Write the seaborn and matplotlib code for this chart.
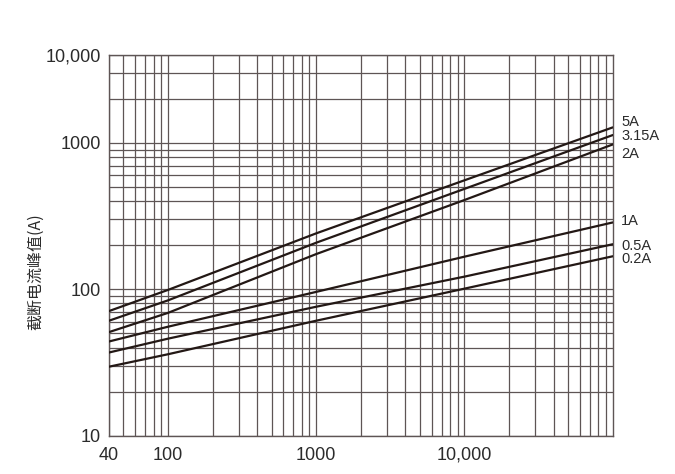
import matplotlib
matplotlib.use("Agg")
import matplotlib.pyplot as plt
import numpy as np
import pandas as pd
import seaborn as sns

prospective_current = [40, 100, 1000, 10000, 100000]
ratings = ["5A", "3.15A", "2A", "1A", "0.5A", "0.2A"]
cut_off_5a = [71, 99, 241, 555, 1275]
cut_off_315a = [61, 84, 208, 485, 1130]
cut_off_2a = [51, 69, 174, 407, 975]
cut_off_1a = [44, 55.5, 96, 167, 286]
cut_off_05a = [37, 46, 76, 122, 203]
cut_off_02a = [29.6, 36, 61, 101, 168]

x_ticks = [40, 100, 1000, 10000]
x_tick_labels = ["40", "100", "1000", "10,000"]
y_ticks = [10, 100, 1000, 4000]
y_tick_labels = ["10", "100", "1000", "10,000"]
y_label = "截断电流峰值(A)"

series = [cut_off_5a, cut_off_315a, cut_off_2a, cut_off_1a, cut_off_05a, cut_off_02a]
df = pd.DataFrame(
    [
        {"x": x, "y": y, "rating": name}
        for name, values in zip(ratings, series)
        for x, y in zip(prospective_current, values)
    ]
)

sns.set_theme(style="white")
plt.rcParams["font.family"] = ["Liberation Sans", "DejaVu Sans"]

grid_color = "#5e5555"
line_color = "#231815"
text_color = "#2b2b2b"

fig = plt.figure(figsize=(6.75, 4.74), dpi=100)
ax = fig.add_axes([0.1615, 0.0808, 0.7462, 0.8038])

sns.lineplot(
    data=df,
    x="x",
    y="y",
    hue="rating",
    hue_order=ratings,
    palette=[line_color] * len(ratings),
    linewidth=1.6,
    legend=False,
    ax=ax,
    zorder=3,
)

ax.set_xscale("log")
ax.set_yscale("log")
ax.set_xlim(40, 100000)
ax.set_ylim(10, 4000)

# graduations majeures / mineures pour la grille
x_minor = [m * 10**e for e in range(1, 5) for m in range(2, 10) if 40 < m * 10**e < 100000]
y_minor = [m * 10**e for e in range(1, 4) for m in range(2, 10) if 10 < m * 10**e < 4000]
ax.set_xticks(x_ticks)
ax.set_xticklabels(x_tick_labels)
ax.set_xticks(x_minor, minor=True)
ax.set_xticklabels([], minor=True)
ax.set_yticks(y_ticks)
ax.set_yticklabels(y_tick_labels)
ax.set_yticks(y_minor, minor=True)
ax.set_yticklabels([], minor=True)

ax.grid(True, which="both", color=grid_color, linewidth=0.9)
ax.tick_params(which="both", length=0, labelsize=13, labelcolor=text_color)
ax.tick_params(axis="x", pad=8)
ax.tick_params(axis="y", pad=6)
for spine in ax.spines.values():
    spine.set_color(grid_color)
    spine.set_linewidth(1.0)

ax.set_xlabel("")
ax.set_ylabel(
    y_label,
    family=["Noto Sans CJK SC", "DejaVu Sans"],
    fontsize=11.5,
    color=text_color,
)
# le titre d'axe se loge sous les graduations, comme sur l'abaque
ax.yaxis.set_label_coords(-0.128, 0.43)

# étiquettes des calibres à droite
label_offsets = {"5A": 4, "3.15A": -1, "2A": -7, "1A": 1, "0.5A": -1, "0.2A": -2}
for name, values in zip(ratings, series):
    ax.annotate(
        name,
        xy=(prospective_current[-1], values[-1]),
        xytext=(6, label_offsets[name]),
        textcoords="offset points",
        va="center",
        ha="left",
        fontsize=10.5,
        color=text_color,
        annotation_clip=False,
    )

fig.savefig("out.png", dpi=100)
